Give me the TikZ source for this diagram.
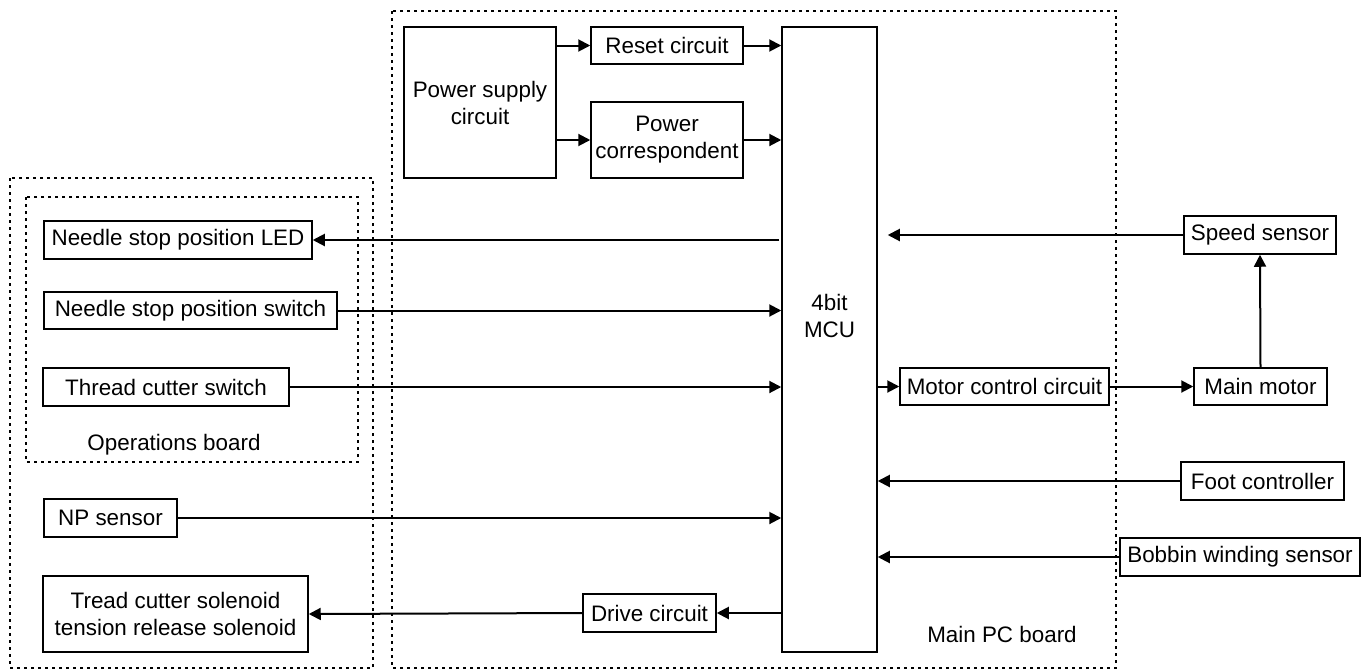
\documentclass[tikz,border=0pt]{standalone}
\usepackage{fontspec}
\setmainfont{Liberation Sans}
\usepackage{tikz}
\usetikzlibrary{arrows.meta,calc}

\begin{document}
\begin{tikzpicture}[
    x=0.5pt, y=-0.5pt,
    font=\fontsize{11.2}{13.5}\selectfont,
    box/.style={draw, line width=0.75pt, inner sep=0pt, align=center},
    frame/.style={line width=0.9pt, dash pattern=on 1.5pt off 2pt},
    sig/.style={line width=1pt, -{Triangle[length=6pt,width=6pt]}}
]
\useasboundingbox (0,0) rectangle (1366,670);

% board outlines
\draw[frame] (392,11) rectangle (1116,668);
\draw[frame] (10,178) rectangle (373,668);
\draw[frame] (26,197) rectangle (358,462);
\node at (174,445) {Operations board};
\node at (1002,634) {Main PC board};

% main PC board blocks
\node[box, minimum width=76pt, minimum height=75.5pt] (psu) at (480,102.5) {Power supply\\circuit};
\node[box, minimum width=76pt, minimum height=18.5pt] (reset) at (667,45.5) {Reset circuit};
\node[box, minimum width=76pt, minimum height=38pt] (pcorr) at (667,140) {Power\\correspondent};
\node[box, minimum width=47.5pt, minimum height=312.5pt] (mcu) at (829.5,339.5) {};
\node[align=center] (mcutext) at (829.5,316) {4bit\\MCU};
\node[box, minimum width=66.5pt, minimum height=19pt] (drive) at (649.5,613) {Drive circuit};
\node[box, minimum width=104.5pt, minimum height=18.5pt] (mcc) at (1004.5,386.5) {Motor control circuit};

% operations board
\node[box, minimum width=134pt, minimum height=19pt] (led) at (178,240) {Needle stop position LED};
\node[box, minimum width=146.5pt, minimum height=18.5pt] (nsw) at (190.5,310.5) {Needle stop position switch};
\node[box, minimum width=123pt, minimum height=19pt] (tcs) at (166,387) {Thread cutter switch};

% other left side parts
\node[box, minimum width=66.5pt, minimum height=19pt] (np) at (110.5,518) {NP sensor};
\node[box, minimum width=132.5pt, minimum height=38pt] (sol) at (175.5,614) {Tread cutter solenoid\\tension release solenoid};

% right side parts
\node[box, minimum width=76pt, minimum height=19pt] (speed) at (1260,235) {Speed sensor};
\node[box, minimum width=66.5pt, minimum height=18.5pt] (motor) at (1260.5,386.5) {Main motor};
\node[box, minimum width=81.5pt, minimum height=19pt] (foot) at (1262.5,481) {Foot controller};
\node[box, minimum width=120pt, minimum height=19pt] (bobbin) at (1240,557) {Bobbin winding sensor};

% connections
\draw[sig] (psu.east |- reset.west) -- (reset.west);
\draw[sig] (psu.east |- pcorr.west) -- (pcorr.west);
\draw[sig] (reset.east) -- (reset.east -| mcu.west);
\draw[sig] (pcorr.east) -- (pcorr.east -| mcu.west);
\draw[sig, shorten <=1pt] (mcu.west |- led.east) -- (led.east);
\draw[sig] (nsw.east) -- (nsw.east -| mcu.west);
\draw[sig] (tcs.east) -- (tcs.east -| mcu.west);
\draw[sig] (np.east) -- (np.east -| mcu.west);
\draw[sig] (mcu.west |- drive.east) -- (drive.east);
\draw[sig] (drive.west) -- (sol.east);
\draw[sig] (mcu.east |- mcc.west) -- (mcc.west);
\draw[sig] (mcc.east) -- (motor.west);
\draw[sig] (motor.north) -- (speed.south);
\draw[sig, shorten >=5pt] (speed.west) -- (speed.west -| mcu.east);
\draw[sig] (foot.west) -- (foot.west -| mcu.east);
\draw[sig] (bobbin.west) -- (bobbin.west -| mcu.east);

\end{tikzpicture}
\end{document}
